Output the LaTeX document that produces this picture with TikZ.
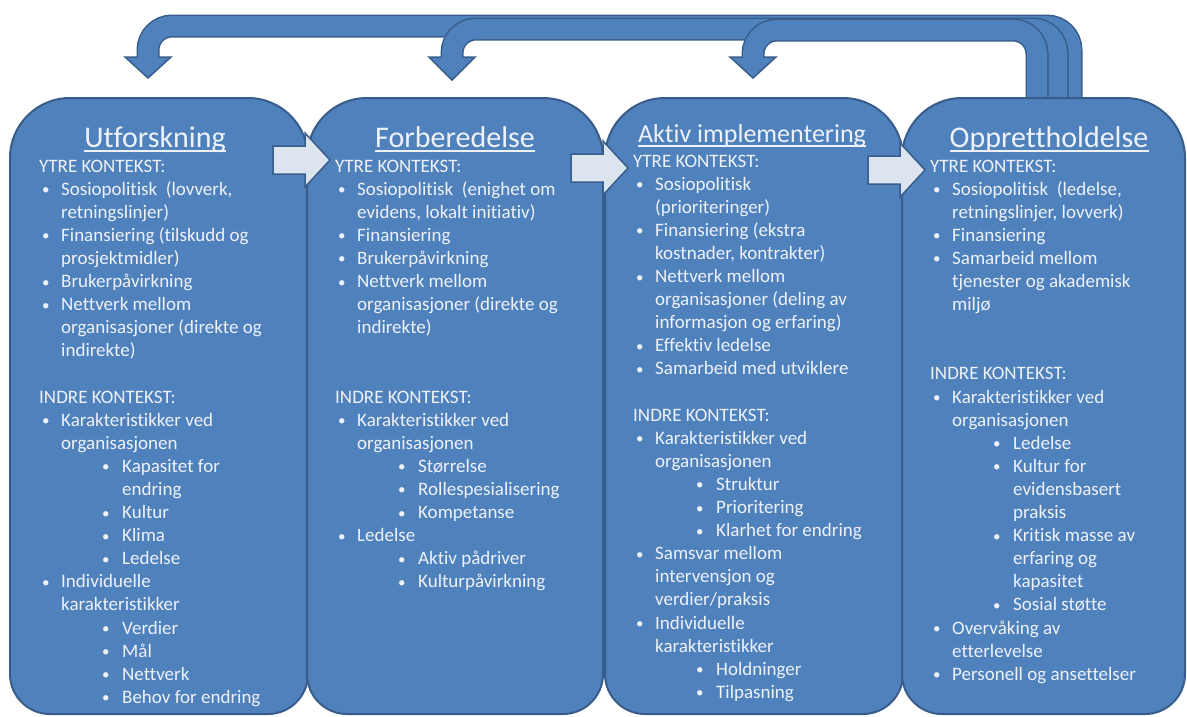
\documentclass[tikz,border=0pt]{standalone}
\usepackage{fontspec}
\setmainfont{Carlito}[RawFeature={-liga;-clig;-calt;-dlig}]
\usetikzlibrary{calc}

\definecolor{stagefill}{HTML}{4F81BD}
\definecolor{stageedge}{HTML}{385D8A}
\definecolor{flowfill}{HTML}{DCE4EF}
\definecolor{ink}{HTML}{EEF2F8}

% list helpers: heading line, first-level and second-level bullets, empty line
\newcommand\dotmark{{\fontsize{15}{15}\selectfont\raisebox{0.5pt}{•}}}
\newcommand\hd[1]{\par\noindent #1}
\newcommand\bi[1]{\par\hangindent=22pt\hangafter=1\noindent\hspace*{3pt}\makebox[19pt][l]{\dotmark}#1}
\newcommand\bii[1]{\par\hangindent=83pt\hangafter=1\noindent\hspace*{63pt}\makebox[20pt][l]{\dotmark}#1}
\newcommand\gap{\par\noindent\mbox{}}
\newcommand\listbox[1]{\parbox[t]{275pt}{\raggedright\hyphenpenalty=10000 #1}}

% phase box: rounded top corners larger than the bottom ones
\newcommand\stagebox[3]{%
  \draw[stage] (#2,158) arc[start angle=180,end angle=270,radius=60]
    -- (#3-60,98) arc[start angle=270,end angle=360,radius=60]
    -- (#3,674) arc[start angle=0,end angle=90,radius=40]
    -- (#2+40,714) arc[start angle=90,end angle=180,radius=40] -- cycle;
  \coordinate (#1) at ({(#2+#3)/2},98);}

% feedback arrow: rises from the last box, runs left and turns down
% #1 name, #2 shaft x at the right, #3 band y, #4 tip x, #5 tip y
\newcommand\uturn[5]{%
  \coordinate (#1-start) at (#2,102);
  \coordinate (#1-tip) at (#4,#5);
  \draw[fb edge] (#4-23,57) -- (#4+23,57) -- (#1-tip) -- cycle;
  \draw[stageedge,line width=23pt,rounded corners=24pt]
    (#1-start) -- (#2,#3) -- (#4,#3) -- (#4,57);
  \draw[stagefill,line width=20pt,rounded corners=24pt]
    (#1-start) -- (#2,#3) -- (#4,#3) -- (#4,59.5);}

% block arrow between two phases, #1 name, #2 tip x, #3 tip y
\newcommand\harrow[3]{%
  \coordinate (#1) at (#2,#3);
  \draw[flow] (#2-57,#3-14) -- (#2-25,#3-14) -- (#2-25,#3-27) -- (#1)
    -- (#2-25,#3+27) -- (#2-25,#3+14) -- (#2-57,#3+14) -- cycle;}

\begin{document}
\begin{tikzpicture}[x=1pt,y=-1pt,
  stage/.style={fill=stagefill,draw=stageedge,line width=2pt},
  fb edge/.style={fill=stagefill,draw=stageedge,line width=1.5pt,line join=miter},
  flow/.style={fill=flowfill,draw=stageedge,line width=1.5pt,line join=miter},
  title/.style={anchor=base,inner sep=0pt,text=ink,font=\fontsize{30}{36}\selectfont},
  body/.style={anchor=base west,inner sep=0pt,text=ink,font=\fontsize{19}{23.1}\selectfont},
  uline/.style={draw=ink,line width=1.6pt}]

\useasboundingbox (0,0) rectangle (1187,716);

% feedback loops, outermost first
\uturn{fbA}{1071}{26}{148}{78}
\uturn{fbB}{1057}{29}{452}{80}
\uturn{fbC}{1037}{30}{753}{78}

% the four phases
\stagebox{p1}{10}{308}
\stagebox{p2}{307}{603}
\stagebox{p3}{605}{903}
\stagebox{p4}{902}{1185}

% forward arrows
\harrow{a12}{330}{160}
\harrow{a23}{628}{168}
\harrow{a34}{925}{170}

% titles
\node[title] (h1) at (155,147) {Utforskning};
\node[title] (h2) at (455,147) {Forberedelse};
\node[title,font=\fontsize{26}{31}\selectfont] (h3) at (752,142) {Aktiv implementering};
\node[title] (h4) at (1049,147) {Opprettholdelse};
\foreach \h/\d in {h1/4,h2/4,h3/4,h4/4}
  \draw[uline] ([yshift=-\d pt]\h.base west) -- ([yshift=-\d pt]\h.base east);

% contents
\node[body] (t1) at (39,172) {\listbox{%
\hd{YTRE KONTEKST:}
\bi{Sosiopolitisk \ (lovverk,\newline retningslinjer)}
\bi{Finansiering (tilskudd og\newline prosjektmidler)}
\bi{Brukerpåvirkning}
\bi{Nettverk mellom\newline organisasjoner (direkte og\newline indirekte)}
\gap
\hd{INDRE KONTEKST:}
\bi{Karakteristikker ved\newline organisasjonen}
\bii{Kapasitet for\newline endring}
\bii{Kultur}
\bii{Klima}
\bii{Ledelse}
\bi{Individuelle\newline karakteristikker}
\bii{Verdier}
\bii{Mål}
\bii{Nettverk}
\bii{Behov for endring}}};

\node[body] (t2) at (335,172) {\listbox{%
\hd{YTRE KONTEKST:}
\bi{Sosiopolitisk \ (enighet om\newline evidens, lokalt initiativ)}
\bi{Finansiering}
\bi{Brukerpåvirkning}
\bi{Nettverk mellom\newline organisasjoner (direkte og\newline indirekte)}
\gap
\gap
\hd{INDRE KONTEKST:}
\bi{Karakteristikker ved\newline organisasjonen}
\bii{Størrelse}
\bii{Rollespesialisering}
\bii{Kompetanse}
\bi{Ledelse}
\bii{Aktiv pådriver}
\bii{Kulturpåvirkning}}};

\node[body] (t3) at (633,167) {\listbox{%
\hd{YTRE KONTEKST:}
\bi{Sosiopolitisk\newline (prioriteringer)}
\bi{Finansiering (ekstra\newline kostnader, kontrakter)}
\bi{Nettverk mellom\newline organisasjoner (deling av\newline informasjon og erfaring)}
\bi{Effektiv ledelse}
\bi{Samarbeid med utviklere}
\gap
\hd{INDRE KONTEKST:}
\bi{Karakteristikker ved\newline organisasjonen}
\bii{Struktur}
\bii{Prioritering}
\bii{Klarhet for endring}
\bi{Samsvar mellom\newline intervensjon og\newline verdier/praksis}
\bi{Individuelle\newline karakteristikker}
\bii{Holdninger}
\bii{Tilpasning}}};

\node[body] (t4) at (930,172) {\listbox{%
\hd{YTRE KONTEKST:}
\bi{Sosiopolitisk \ (ledelse,\newline retningslinjer, lovverk)}
\bi{Finansiering}
\bi{Samarbeid mellom\newline tjenester og akademisk\newline miljø}
\gap
\gap
\hd{INDRE KONTEKST:}
\bi{Karakteristikker ved\newline organisasjonen}
\bii{Ledelse}
\bii{Kultur for\newline evidensbasert\newline praksis}
\bii{Kritisk masse av\newline erfaring og\newline kapasitet}
\bii{Sosial støtte}
\bi{Overvåking av\newline etterlevelse}
\bi{Personell og ansettelser}}};

\end{tikzpicture}
\end{document}
